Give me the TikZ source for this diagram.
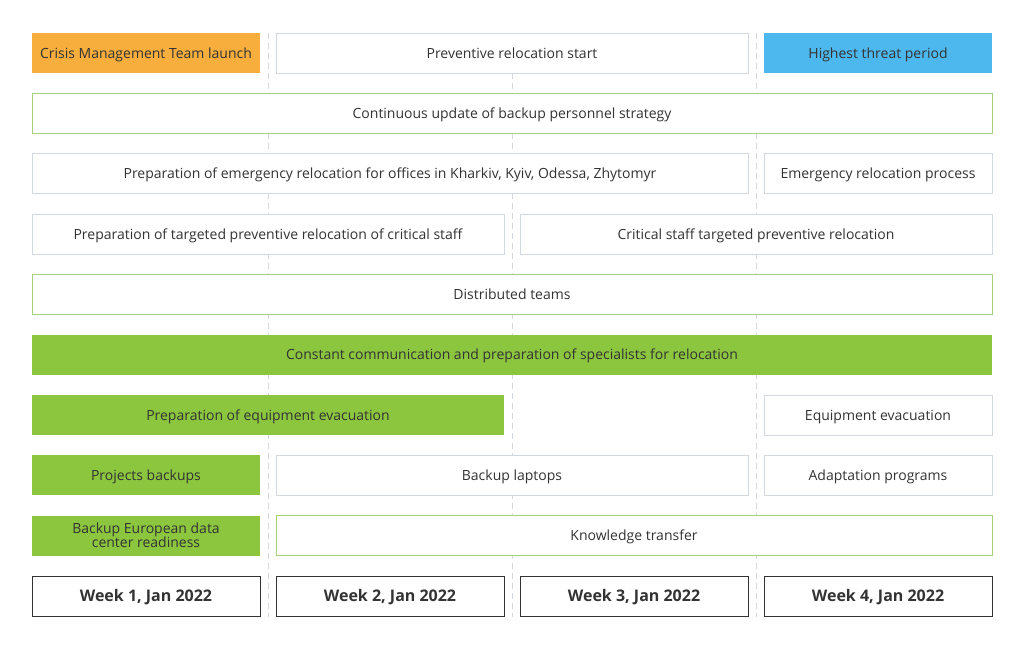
\documentclass[tikz,border=0pt]{standalone}
\usepackage{fontspec}
\setmainfont{Open Sans}
\definecolor{txtgray}{HTML}{333333}
\definecolor{linegray}{HTML}{D3D8DE}
\definecolor{leafgreen}{HTML}{8CC63F}
\definecolor{palegreen}{HTML}{A8D17C}
\definecolor{crisisorange}{HTML}{F7AE3C}
\definecolor{threatblue}{HTML}{4DB8EE}
\begin{document}
\begin{tikzpicture}[x=1pt,y=-1pt,
    task/.style={draw=linegray,fill=white,line width=0.8pt,minimum height=40pt,inner sep=0pt,
      text=txtgray,font=\fontsize{14}{14}\selectfont,align=center,text height=10pt,text depth=0pt},
    greenline/.style={task,draw=palegreen},
    greenfill/.style={task,draw=none,fill=leafgreen},
    week/.style={task,draw=txtgray,font=\fontsize{16}{17}\selectfont\bfseries,text height=11.5pt},
    colA/.style={minimum width=228pt},
    colAB/.style={minimum width=472pt},
    colABC/.style={minimum width=716pt},
    colAll/.style={minimum width=960pt}]
  \useasboundingbox (0,0) rectangle (1024,649);
  % week separators
  \foreach \sx in {268,512,756}
    \draw[linegray,line width=0.8pt,dash pattern=on 6pt off 4pt] (\sx,33) -- (\sx,617);
  % row 1
  \node[task,draw=none,fill=crisisorange,colA] (crisis) at (146,53) {Crisis Management Team launch};
  \node[task,colAB] (preventive) at (512,53) {Preventive relocation start};
  \node[task,draw=none,fill=threatblue,colA] (threat) at (878,53) {Highest threat period};
  % row 2
  \node[greenline,colAll] (backupstrategy) at (512,113.3) {Continuous update of backup personnel strategy};
  % row 3
  \node[task,colABC] (emergencyprep) at (390,173.7) {Preparation of emergency relocation for offices in Kharkiv, Kyiv, Odessa, Zhytomyr};
  \node[task,colA] (emergency) at (878,173.7) {Emergency relocation process};
  % row 4
  \node[task,colAB] (targetedprep) at (268,234) {Preparation of targeted preventive relocation of critical staff};
  \node[task,colAB] (targeted) at (756,234) {Critical staff targeted preventive relocation};
  % row 5
  \node[greenline,colAll] (distributed) at (512,294.3) {Distributed teams};
  % row 6
  \node[greenfill,colAll] (communication) at (512,354.7) {Constant communication and preparation of specialists for relocation};
  % row 7
  \node[greenfill,colAB] (equipprep) at (268,415) {Preparation of equipment evacuation};
  \node[task,colA] (equip) at (878,415) {Equipment evacuation};
  % row 8
  \node[greenfill,colA] (projects) at (146,475.3) {Projects backups};
  \node[task,colAB] (laptops) at (512,475.3) {Backup laptops};
  \node[task,colA] (adaptation) at (878,475.3) {Adaptation programs};
  % row 9
  \node[greenfill,colA,text height=24pt] (datacenter) at (146,535.7) {Backup European data\\center readiness};
  \node[greenline,minimum width=716pt] (knowledge) at (634,535.7) {Knowledge transfer};
  % weeks
  \foreach \wk/\wx in {1/146,2/390,3/634,4/878}
    \node[week,colA] (week\wk) at (\wx,596) {Week \wk, Jan 2022};
\end{tikzpicture}
\end{document}
